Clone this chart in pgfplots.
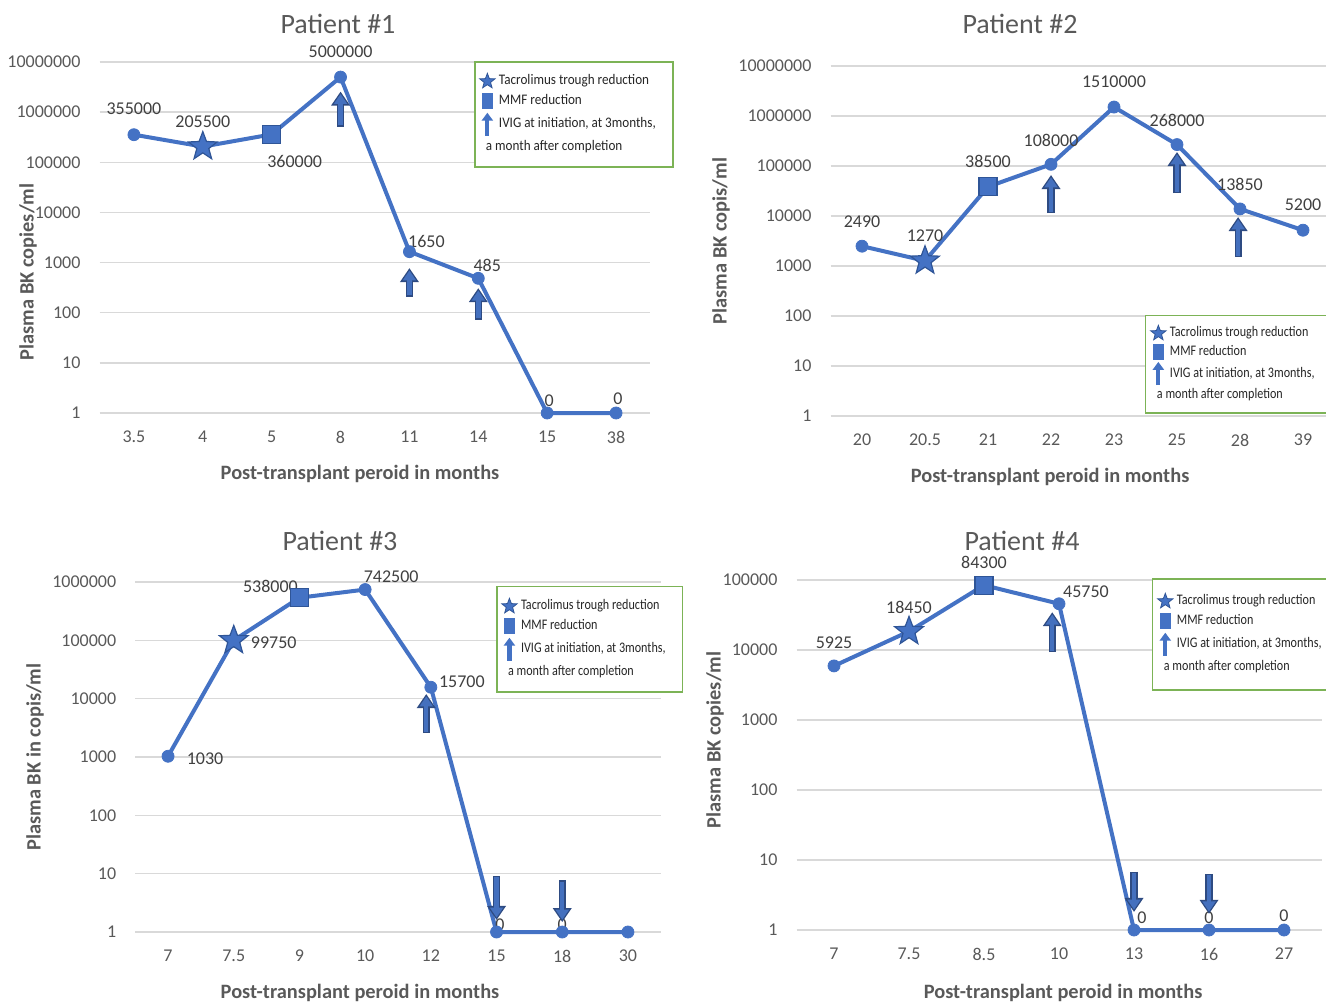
\documentclass[border=0pt]{standalone}
\usepackage{fontspec}
\setmainfont{Carlito}
\newfontfamily\legfontA[FakeStretch=0.9]{Carlito}
\newfontfamily\legfontB[FakeStretch=0.83]{Carlito}
\usepackage{pgfplots}
\pgfplotsset{compat=1.18}
\usetikzlibrary{arrows.meta}

\definecolor{lineblue}{HTML}{4472C4}
\definecolor{markedge}{HTML}{2F5597}
\definecolor{arrowedge}{HTML}{2E4B82}
\definecolor{arrowfill}{HTML}{4470BE}
\definecolor{gridgray}{HTML}{D9D9D9}
\definecolor{ticktext}{HTML}{595959}
\definecolor{labtext}{HTML}{404040}
\definecolor{leggreen}{HTML}{7CB356}

\pgfdeclareplotmark{fstar}{%
  \pgfpathmoveto{\pgfpointpolar{90}{\pgfplotmarksize}}%
  \pgfpathlineto{\pgfpointpolar{126}{0.42\pgfplotmarksize}}%
  \pgfpathlineto{\pgfpointpolar{162}{\pgfplotmarksize}}%
  \pgfpathlineto{\pgfpointpolar{198}{0.42\pgfplotmarksize}}%
  \pgfpathlineto{\pgfpointpolar{234}{\pgfplotmarksize}}%
  \pgfpathlineto{\pgfpointpolar{270}{0.42\pgfplotmarksize}}%
  \pgfpathlineto{\pgfpointpolar{306}{\pgfplotmarksize}}%
  \pgfpathlineto{\pgfpointpolar{342}{0.42\pgfplotmarksize}}%
  \pgfpathlineto{\pgfpointpolar{18}{\pgfplotmarksize}}%
  \pgfpathlineto{\pgfpointpolar{54}{0.42\pgfplotmarksize}}%
  \pgfpathclose
  \pgfusepathqfillstroke}

\tikzset{
  dlab/.style={font=\fontsize{9}{10}\selectfont, text=labtext, inner sep=0pt},
  ivigout/.style={draw=arrowedge, line width=3.6pt, -{Triangle[width=9pt,length=7pt]}},
  ivigin/.style={draw=arrowfill, line width=2.2pt, shorten >=1.2pt, shorten <=0.7pt,
    -{Triangle[width=6.4pt,length=5pt]}},
  ttl/.style={font=\fontsize{14}{15}\selectfont, text=ticktext, inner sep=0pt},
  alab/.style={font=\bfseries\fontsize{10.2}{11}\selectfont, text=ticktext, inner sep=0pt},
}

\newcommand\ivig[3]{%
  \addplot[forget plot, mark=none, ivigout] coordinates {(#1,#2)(#1,#3)};
  \addplot[forget plot, mark=none, ivigin] coordinates {(#1,#2)(#1,#3)};
}

\pgfplotsset{
  bkstyle/.style={
    scale only axis, ymin=1,
    axis line style={draw=none}, major tick length=0pt, minor tick length=0pt,
    ymajorgrids, grid style={draw=gridgray, line width=0.75pt},
    tick label style={font=\fontsize{9}{10}\selectfont, text=ticktext},
    yticklabel style={xshift=-6pt},
    xticklabel style={yshift=-5.5pt},
    clip=false,
    legend cell align=left,
    legend style={draw=leggreen, line width=0.75pt, fill=white,
      font=\legfontB\fontsize{7.3}{8.5}\selectfont, text=black!85,
      inner xsep=2.5pt, inner ysep=4.5pt, row sep=-0.6pt, anchor=north west},
  },
}

\newcommand\bklegend{%
  \addlegendimage{legend image code/.code={\pgfsetfillcolor{lineblue}\pgfsetstrokecolor{markedge}\pgfsetlinewidth{0.4pt}\pgfsetplotmarksize{4pt}\pgfuseplotmark{fstar}}}
  \addlegendentry{Tacrolimus trough reduction}
  \addlegendimage{legend image code/.code={\fill[lineblue] (-2.3pt,-3.6pt) rectangle (2.3pt,3.6pt);}}
  \addlegendentry{MMF reduction}
  \addlegendimage{legend image code/.code={\draw[lineblue, line width=2.1pt, -{Triangle[width=5.6pt,length=4pt]}] (0,-5.8pt) -- (0,5.8pt);}}
  \addlegendentry{IVIG at initiation, at 3months,\hspace*{4pt}}
  \addlegendimage{empty legend}
  \addlegendentry{\hspace*{-6.5pt}a month after completion}
}

\begin{document}
\begin{tikzpicture}
\useasboundingbox (0,0) rectangle (663pt,-502.5pt);

% ---------------- Patient 1
\begin{axis}[bkstyle, ymode=log, at={(49.75pt,-206.5pt)}, anchor=south west,
  width=275.5pt, height=175.5pt, xmin=-0.5, xmax=7.5, ymax=10000000,
  xtick={0,...,7}, xticklabels={3.5,4,5,8,11,14,15,38},
  ytick={1,10,100,1000,10000,100000,1000000,10000000},
  yticklabels={1,10,100,1000,10000,100000,1000000,10000000},
  legend style={at={(0.6797,1.0028)}, font=\legfontA\fontsize{7.3}{8.5}\selectfont}]
\addplot[forget plot, color=lineblue, line width=2pt, mark=none] coordinates {(0,355000)(1,205500)(2,360000)(3,5000000)(4,1650)(5,485)(6,1)(7,1)};
\addplot[forget plot, only marks, mark=*, mark size=3pt, color=lineblue] coordinates {(0,355000)(3,5000000)(4,1650)(5,485)(6,1)(7,1)};
\addplot[forget plot, only marks, mark=fstar, mark size=7.5pt, mark options={fill=lineblue, draw=markedge, line width=0.6pt}] coordinates {(1,205500)};
\addplot[forget plot, only marks, mark=square*, mark size=4.5pt, mark options={fill=lineblue, draw=markedge, line width=0.6pt}] coordinates {(2,360000)};
\node[dlab] at (axis cs:0,355000) [yshift=13pt] {355000};
\node[dlab] at (axis cs:1,205500) [yshift=12.5pt] {205500};
\node[dlab] at (axis cs:2,360000) [xshift=11.5pt, yshift=-13.5pt] {360000};
\node[dlab] at (axis cs:3,5000000) [yshift=12.5pt] {5000000};
\node[dlab] at (axis cs:4,1650) [xshift=8.5pt, yshift=5pt] {1650};
\node[dlab] at (axis cs:5,485) [xshift=4.5pt, yshift=6.5pt] {485};
\node[dlab] at (axis cs:6,1) [xshift=1pt, yshift=6pt] {0};
\node[dlab] at (axis cs:7,1) [xshift=1pt, yshift=7pt] {0};
\ivig{3}{513000}{2570000}
\ivig{4}{209}{776}
\ivig{5}{72.4}{309}
\bklegend
\end{axis}

% ---------------- Patient 2
\begin{axis}[bkstyle, ymode=log, at={(415.25pt,-208pt)}, anchor=south west,
  width=252pt, height=175pt, xmin=-0.5, xmax=7.5, ymax=10000000,
  xtick={0,...,7}, xticklabels={20,20.5,21,22,23,25,28,39},
  ytick={1,10,100,1000,10000,100000,1000000,10000000},
  yticklabels={1,10,100,1000,10000,100000,1000000,10000000},
  legend style={at={(0.624,0.2886)}, inner ysep=3.5pt, row sep=-1.3pt}]
\addplot[forget plot, color=lineblue, line width=2pt, mark=none] coordinates {(0,2490)(1,1270)(2,38500)(3,108000)(4,1510000)(5,268000)(6,13850)(7,5200)};
\addplot[forget plot, only marks, mark=*, mark size=3pt, color=lineblue] coordinates {(0,2490)(3,108000)(4,1510000)(5,268000)(6,13850)(7,5200)};
\addplot[forget plot, only marks, mark=fstar, mark size=7.5pt, mark options={fill=lineblue, draw=markedge, line width=0.6pt}] coordinates {(1,1270)};
\addplot[forget plot, only marks, mark=square*, mark size=4.5pt, mark options={fill=lineblue, draw=markedge, line width=0.6pt}] coordinates {(2,38500)};
\node[dlab] at (axis cs:0,2490) [yshift=12pt] {2490};
\node[dlab] at (axis cs:1,1270) [yshift=12.5pt] {1270};
\node[dlab] at (axis cs:2,38500) [yshift=12.5pt] {38500};
\node[dlab] at (axis cs:3,108000) [yshift=12pt] {108000};
\node[dlab] at (axis cs:4,1510000) [yshift=12.5pt] {1510000};
\node[dlab] at (axis cs:5,268000) [yshift=12.3pt] {268000};
\node[dlab] at (axis cs:6,13850) [yshift=12.5pt] {13850};
\node[dlab] at (axis cs:7,5200) [yshift=12.5pt] {5200};
\ivig{3}{11482}{66069}
\ivig{5}{28840}{190546}
\ivig{5.97}{1514}{9550}
\bklegend
\end{axis}

% ---------------- Patient 3
\begin{axis}[bkstyle, ymode=log, at={(67.6pt,-466pt)}, anchor=south west,
  width=262.8pt, height=175pt, xmin=-0.5, xmax=7.5, ymax=1000000,
  xtick={0,...,7}, xticklabels={7,7.5,9,10,12,15,18,30},
  ytick={1,10,100,1000,10000,100000,1000000},
  yticklabels={1,10,100,1000,10000,100000,1000000},
  legend style={at={(0.6866,0.9886)}}]
\addplot[forget plot, color=lineblue, line width=2pt, mark=none] coordinates {(0,1030)(1,99750)(2,538000)(3,742500)(4,15700)(5,1)(6,1)(7,1)};
\addplot[forget plot, only marks, mark=*, mark size=3pt, color=lineblue] coordinates {(0,1030)(3,742500)(4,15700)(5,1)(6,1)(7,1)};
\addplot[forget plot, only marks, mark=fstar, mark size=7.5pt, mark options={fill=lineblue, draw=markedge, line width=0.6pt}] coordinates {(1,99750)};
\addplot[forget plot, only marks, mark=square*, mark size=4.5pt, mark options={fill=lineblue, draw=markedge, line width=0.6pt}] coordinates {(2,538000)};
\node[dlab] at (axis cs:0,1030) [xshift=18.5pt, yshift=-1pt] {1030};
\node[dlab] at (axis cs:1,99750) [xshift=20pt, yshift=-1pt] {99750};
\node[dlab] at (axis cs:2,538000) [xshift=-14.5pt, yshift=5.5pt] {538000};
\node[dlab] at (axis cs:3,742500) [xshift=13pt, yshift=6.3pt] {742500};
\node[dlab] at (axis cs:4,15700) [xshift=15.5pt, yshift=3pt] {15700};
\node[dlab] at (axis cs:5,1) [xshift=1.75pt, yshift=3.5pt] {0};
\node[dlab] at (axis cs:6,1) [yshift=3.5pt] {0};
\ivig{3.93}{2570}{12023}
\ivig{5}{9.12}{1.61}
\ivig{6}{7.76}{1.48}
\bklegend
\end{axis}

% ---------------- Patient 4
\begin{axis}[bkstyle, ymode=log, at={(398.25pt,-465pt)}, anchor=south west,
  width=262.5pt, height=175pt, xmin=-0.5, xmax=6.5, ymax=100000,
  xtick={0,...,6}, xticklabels={7,7.5,8.5,10,13,16,27},
  ytick={1,10,100,1000,10000,100000},
  yticklabels={1,10,100,1000,10000,100000},
  legend style={at={(0.677,1.0057)}, inner ysep=6pt}]
\addplot[forget plot, color=lineblue, line width=2pt, mark=none] coordinates {(0,5925)(1,18450)(2,84300)(3,45750)(4,1)(5,1)(6,1)};
\addplot[forget plot, only marks, mark=*, mark size=3pt, color=lineblue] coordinates {(0,5925)(3,45750)(4,1)(5,1)(6,1)};
\addplot[forget plot, only marks, mark=fstar, mark size=7.5pt, mark options={fill=lineblue, draw=markedge, line width=0.6pt}] coordinates {(1,18450)};
\addplot[forget plot, only marks, mark=square*, mark size=4.5pt, mark options={fill=lineblue, draw=markedge, line width=0.6pt}] coordinates {(2,84300)};
\node[dlab] at (axis cs:0,5925) [yshift=11.7pt] {5925};
\node[dlab] at (axis cs:1,18450) [yshift=12.2pt] {18450};
\node[dlab] at (axis cs:2,84300) [yshift=11.5pt] {84300};
\node[dlab] at (axis cs:3,45750) [xshift=13.5pt, yshift=6pt] {45750};
\node[dlab] at (axis cs:4,1) [xshift=4pt, yshift=6pt] {0};
\node[dlab] at (axis cs:5,1) [yshift=6pt] {0};
\node[dlab] at (axis cs:6,1) [yshift=7pt] {0};
\ivig{2.91}{9333}{34674}
\ivig{4}{6.76}{1.81}
\ivig{5}{6.31}{1.70}
\bklegend
\end{axis}

% ---------------- titles and axis labels
\node[ttl] at (169pt,-12pt) {Patient \#1};
\node[ttl] at (510pt,-12pt) {Patient \#2};
\node[ttl] at (170pt,-270.5pt) {Patient \#3};
\node[ttl] at (511pt,-270.5pt) {Patient \#4};
\node[alab] at (180pt,-237pt) {Post-transplant peroid in months};
\node[alab] at (525pt,-238.5pt) {Post-transplant peroid in months};
\node[alab] at (180pt,-496.5pt) {Post-transplant peroid in months};
\node[alab] at (531.5pt,-496.5pt) {Post-transplant peroid in months};
\node[alab, rotate=90] at (14pt,-136pt) {Plasma BK copies/ml};
\node[alab, rotate=90] at (360.5pt,-120.5pt) {Plasma BK copis/ml};
\node[alab, rotate=90] at (17.5pt,-378.5pt) {Plasma BK in copis/ml};
\node[alab, rotate=90] at (357.5pt,-370pt) {Plasma BK copies/ml};
\end{tikzpicture}
\end{document}
